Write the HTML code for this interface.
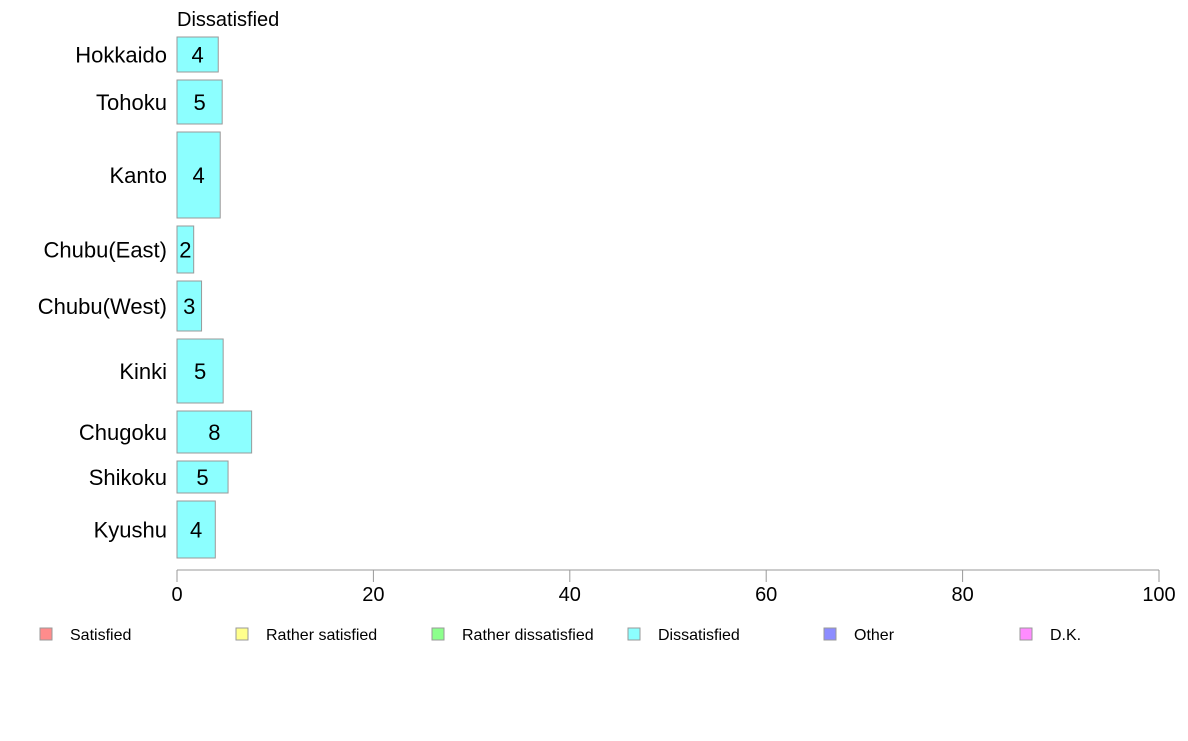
<!DOCTYPE html>
<html><head><meta charset="utf-8"><style>
body{margin:0;background:#fff;font-family:"Liberation Sans",Arial,sans-serif;}
</style></head><body>
<svg id="chart" width="1188" height="736" xmlns="http://www.w3.org/2000/svg" font-family="Liberation Sans, Arial, sans-serif"></svg>
<script>
const categories=["Hokkaido","Tohoku","Kanto","Chubu(East)","Chubu(West)","Kinki","Chugoku","Shikoku","Kyushu"];
const values=[4.2,4.6,4.4,1.7,2.5,4.7,7.6,5.2,3.9];
const labels=["4","5","4","2","3","5","8","5","4"];
const sampleSizes=[35,44,86,47,50,64,42,32,57];
const ticks=[0,20,40,60,80,100];
const legendNames=["Satisfied","Rather satisfied","Rather dissatisfied","Dissatisfied","Other","D.K."];
const legendColors=["#ff8c8c","#ffff8c","#8cff8c","#8cffff","#8c8cff","#ff8cff"];
const svg=document.getElementById('chart');
const NS="http://www.w3.org/2000/svg";
function mk(t,a,txt){const e=document.createElementNS(NS,t);for(const k in a)e.setAttribute(k,a[k]);if(txt!==undefined)e.textContent=txt;svg.appendChild(e);return e;}
const x0=177,x1=1159,yTop=37,gap=8,yBottom=558;
const xs=v=>x0+(v/100)*(x1-x0);
const totalH=yBottom-yTop-gap*(categories.length-1);
const sumN=sampleSizes.reduce((a,b)=>a+b,0);
let t=mk('text',{x:177,y:26,'font-size':20,fill:'#000'},'Dissatisfied');


let yy=yTop;
categories.forEach((c,i)=>{
  const h=totalH*sampleSizes[i]/sumN;
  const r=mk('rect',{x:x0,y:yy,width:xs(values[i])-x0,height:h,fill:'#8cffff',stroke:'#999','stroke-width':1});
  
  
  const cy=yy+h/2;
  const l=mk('text',{x:(x0+xs(values[i]))/2,y:cy+8,'font-size':22,'text-anchor':'middle',fill:'#000'},labels[i]);
  
  
  const cl=mk('text',{x:167,y:cy+8,'font-size':22,'text-anchor':'end',fill:'#000'},c);
  
  
  yy+=h+gap;
});
const ax=mk('line',{x1:x0,x2:x1,y1:570,y2:570,stroke:'#999'});


ticks.forEach(v=>{
  const tk=mk('line',{x1:xs(v),x2:xs(v),y1:570,y2:582,stroke:'#999'});
  
  
  const tl=mk('text',{x:xs(v),y:601,'font-size':20,'text-anchor':'middle',fill:'#000'},String(v));
  
  
});
legendNames.forEach((n,i)=>{
  const lx=40+i*196;
  const sq=mk('rect',{x:lx,y:628,width:12,height:12,fill:legendColors[i],stroke:'#999'});
  
  
  const lt=mk('text',{x:lx+30,y:640,'font-size':16,fill:'#000'},n);
  
  
});
</script>
</body></html>
